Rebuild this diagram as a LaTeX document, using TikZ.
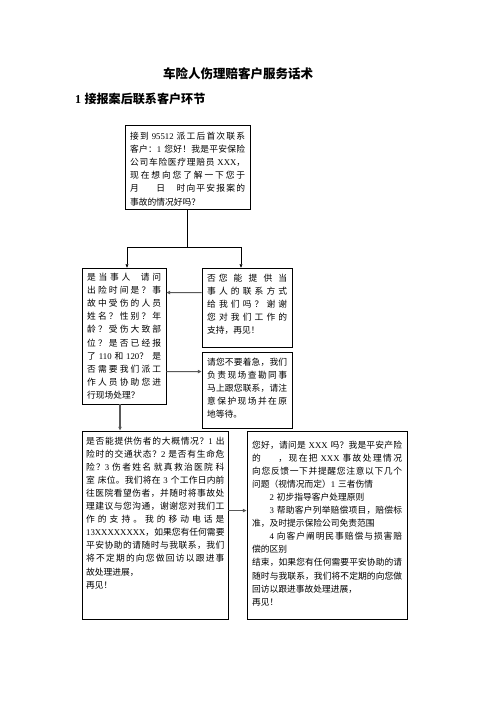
\documentclass[tikz,border=0pt]{standalone}
\usepackage{fontspec}
\setmainfont{Noto Sans CJK SC}
\newfontfamily\latinfont{Liberation Serif}
\usetikzlibrary{arrows.meta,fit}
\XeTeXinterchartokenstate=1
\newXeTeXintercharclass\cjkcls
\newcount\cjkcc
\cjkcc="3000 \loop \XeTeXcharclass\cjkcc=\cjkcls \ifnum\cjkcc<"303F \advance\cjkcc by 1 \repeat
\cjkcc="4E00 \loop \XeTeXcharclass\cjkcc=\cjkcls \ifnum\cjkcc<"9FFF \advance\cjkcc by 1 \repeat
\cjkcc="FF00 \loop \XeTeXcharclass\cjkcc=\cjkcls \ifnum\cjkcc<"FFEF \advance\cjkcc by 1 \repeat
\XeTeXinterchartoks\cjkcls\cjkcls={\hskip0pt plus 2pt\relax}
\newcommand\LT[1]{{\latinfont #1}}
\newcommand\JL[1]{\noindent\hbox to\linewidth{#1}\par}
\newcommand\NL[1]{\noindent\hbox{#1}\par}
\begin{document}
\begin{tikzpicture}[x=1.2pt,y=-1.2pt,
  box/.style={draw=black,line width=1pt,inner sep=0pt},
  txt/.style={inner sep=0pt,anchor=base west,font=\fontsize{10.5pt}{15.72pt}\selectfont},
  tarrow/.style={draw=black,line width=0.8pt,-{Triangle[length=4pt,width=3.6pt]}},
  garrow/.style={draw=black!65,line width=1.3pt,-{Triangle[length=4.5pt,width=4pt]}}]
\path[use as bounding box,fill=white] (0,0) rectangle (496,702);

\node[inner sep=0pt,font=\bfseries\fontsize{15pt}{18pt}\selectfont] (title) at (238,74) {车险人伤理赔客户服务话术};
\node[inner sep=0pt,anchor=west,font=\bfseries\fontsize{14.5pt}{17pt}\selectfont] (head) at (75,99) {\LT{1}\hspace{4pt}接报案后联系客户环节};

\node[box,fit={(125,125) (250,209)}] (top) {};
\node[txt,text width=138pt] (topt) at (130,139.5) {%
\JL{接到 \LT{95512} 派工后首次联系}
\JL{客户：\LT{1} 您好！我是平安保险}
\JL{公司车险医疗理赔员 \LT{XXX}，}
\JL{现在想向您了解一下您于}
\JL{月\hskip2em 日\hskip1.3em 时向平安报案的}
\NL{事故的情况好吗？}};

\node[box,fit={(82,268) (166,404)}] (left) {};
\node[txt,text width=88.8pt] (leftt) at (87,280.5) {%
\JL{是当事人\hskip1.2em 请问}
\JL{出险时间是？事}
\JL{故中受伤的人员}
\JL{姓名？性别？年}
\JL{龄？受伤大致部}
\JL{位？是否已经报}
\JL{了 \LT{110} 和 \LT{120}？是}
\JL{否需要我们派工}
\JL{作人员协助您进}
\NL{行现场处理？}};

\node[box,fit={(202,268) (292,347)}] (r1) {};
\node[txt,text width=96pt] (r1t) at (207,281.5) {%
\JL{否 您能提供当}
\JL{事人的联系方式}
\JL{给我们吗？谢谢}
\JL{您对我们工作的}
\NL{支持，再见！}};

\node[box,fit={(202,352) (292,428)}] (r2) {};
\node[txt,text width=96pt] (r2t) at (207,365.5) {%
\JL{请您不要着急，我们}
\JL{负责现场查勘同事}
\JL{马上跟您联系，请注}
\JL{意保护现场并在原}
\NL{地等待。}};

\node[box,fit={(82,431) (228,619)}] (bl) {};
\node[txt,text width=166pt] (blt) at (86,444) {%
\JL{是否能提供伤者的大概情况？\LT{1} 出}
\JL{险时的交通状态？\LT{2} 是否有生命危}
\JL{险？\LT{3} 伤者姓名 就真救治医院 科}
\JL{室 床位。我们将在 \LT{3} 个工作日内前}
\JL{往医院看望伤者，并随时将事故处}
\JL{理建议与您沟通，谢谢您对我们工}
\JL{作的支持。我的移动电话是}
\JL{\LT{13XXXXXXXX}，如果您有任何需要}
\JL{平安协助的请随时与我联系，我们}
\JL{将不定期的向您做回访以跟进事}
\NL{故处理进展，}
\NL{再见！}};

\node[box,fit={(247,431) (407,619)}] (br) {};
\node[txt,text width=180pt] (brt) at (252,448) {%
\JL{您好，请问是 \LT{XXX} 吗？我是平安产险}
\JL{的\hskip2em ，现在把 \LT{XXX} 事故处理情况}
\JL{向您反馈一下并提醒您注意以下几个}
\NL{问题（视情况而定）\LT{1} 三者伤情}
\NL{\hspace*{2em}\LT{2} 初步指导客户处理原则}
\JL{\hspace*{2em}\LT{3} 帮助客户列举赔偿项目，赔偿标}
\NL{准，及时提示保险公司免责范围}
\JL{\hspace*{2em}\LT{4} 向客户阐明民事赔偿与损害赔}
\NL{偿的区别}
\JL{结束，如果您有任何需要平安协助的请}
\JL{随时与我联系，我们将不定期的向您做}
\NL{回访以跟进事故处理进展，}
\NL{再见！}};

\draw[tarrow] (top.south) -- ++(0,38) -| ([xshift=3.6pt]left.north);
\draw[tarrow] (top.south) -- ++(0,38) -| ([xshift=-7.2pt]r1.north);
\draw[garrow] ([yshift=-30pt]r1.north west) -- ([yshift=-30pt]left.north east);
\draw[garrow] ([yshift=-124.8pt]left.north east) -- ([yshift=-24pt]r2.north west);
\draw[garrow] ([xshift=-4.8pt]left.south) -- ([xshift=-4.8pt]left.south |- bl.north);
\draw[garrow] ([yshift=-96pt]bl.north east) -- ([yshift=-96pt]br.north west);
\end{tikzpicture}
\end{document}
